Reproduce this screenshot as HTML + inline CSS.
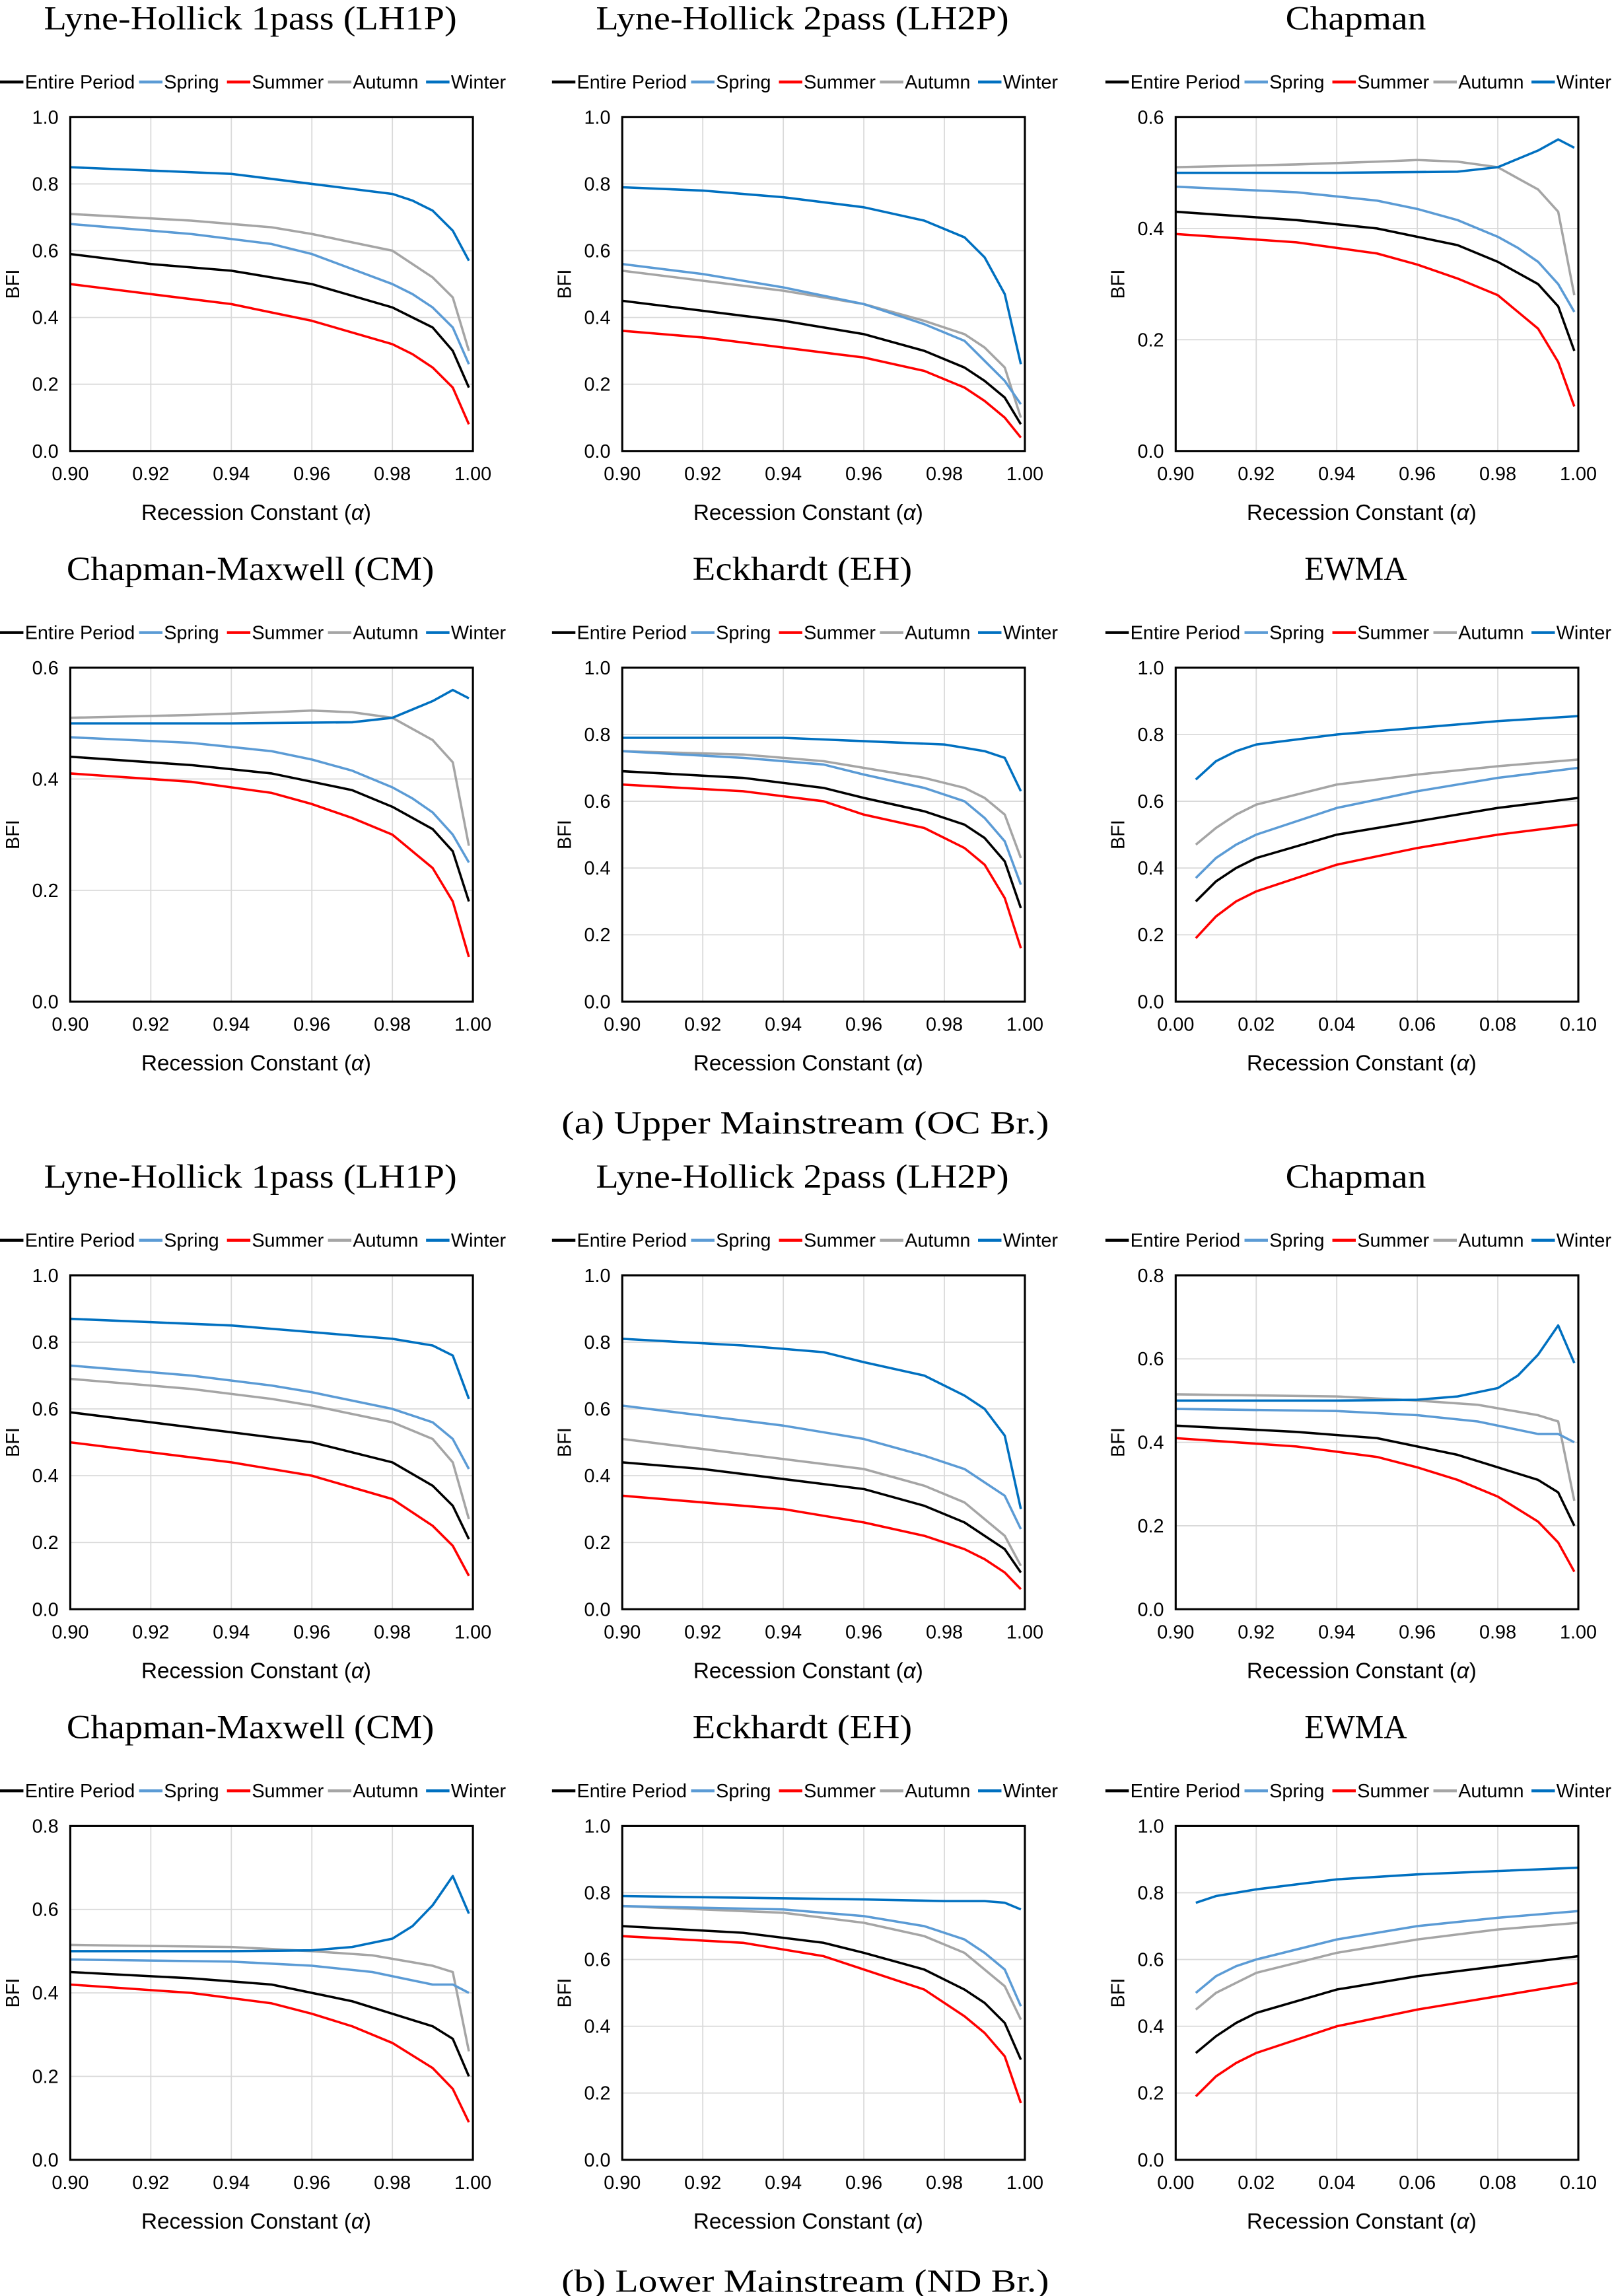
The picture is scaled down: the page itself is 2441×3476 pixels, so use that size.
<!DOCTYPE html>
<html><head><meta charset="utf-8">
<style>
html,body{margin:0;padding:0;background:#fff;}
svg{display:block;}
</style></head>
<body>
<svg id="s" width="2441" height="3476" viewBox="0 0 1101 1568" preserveAspectRatio="none" xmlns="http://www.w3.org/2000/svg">
<rect width="1101" height="1568" fill="#fff"/>
<g id="g"></g>
<text x="550" y="774" text-anchor="middle" font-family="Liberation Serif, serif" font-size="22" textLength="333" lengthAdjust="spacingAndGlyphs">(a) Upper Mainstream (OC Br.)</text>
<text x="550" y="1565" text-anchor="middle" font-family="Liberation Serif, serif" font-size="22" textLength="333" lengthAdjust="spacingAndGlyphs">(b) Lower Mainstream (ND Br.)</text>
</svg>
<script>
const C={E:"#000000",S:"#5b9bd5",U:"#ff0000",A:"#a5a5a5",W:"#0070c0"};
const chap=(e,u)=>({
W:[[.9,.50],[.94,.50],[.97,.502],[.98,.51],[.985,.525],[.99,.54],[.995,.56],[.999,.545]],
A:[[.9,.51],[.93,.515],[.95,.52],[.96,.523],[.97,.52],[.98,.51],[.985,.49],[.99,.47],[.995,.43],[.999,.28]],
S:[[.9,.475],[.93,.465],[.95,.45],[.96,.435],[.97,.415],[.98,.385],[.985,.365],[.99,.34],[.995,.30],[.999,.25]],
E:[[.9,e],[.93,e-.015],[.95,e-.03],[.96,e-.045],[.97,e-.06],[.98,e-.09],[.985,e-.11],[.99,e-.13],[.995,e-.17],[.999,.18]],
U:[[.9,u],[.93,u-.015],[.95,u-.035],[.96,u-.055],[.97,u-.08],[.98,u-.11],[.985,u-.14],[.99,u-.17],[.995,u-.23],[.999,.08]]});
const chapB=(e,u)=>({
W:[[.9,.50],[.94,.50],[.96,.502],[.97,.51],[.98,.53],[.985,.56],[.99,.61],[.995,.68],[.999,.59]],
A:[[.9,.515],[.94,.51],[.96,.50],[.975,.49],[.99,.465],[.995,.45],[.999,.26]],
S:[[.9,.48],[.94,.475],[.96,.465],[.975,.45],[.99,.42],[.995,.42],[.999,.40]],
E:[[.9,e],[.93,e-.015],[.95,e-.03],[.96,e-.05],[.97,e-.07],[.98,e-.10],[.99,e-.13],[.995,e-.16],[.999,.20]],
U:[[.9,u],[.93,u-.02],[.95,u-.045],[.96,u-.07],[.97,u-.10],[.98,u-.14],[.99,u-.20],[.995,u-.25],[.999,.09]]});
const ew=(a)=>{const xs=[.005,.01,.015,.02,.04,.06,.08,.1];let o={};for(const k in a)o[k]=a[k].map((v,i)=>[xs[i],v]);return o;};
const panels=[
{t:"Lyne-Hollick  1pass  (LH1P)",tw:282,ymax:1,yt:[0,.2,.4,.6,.8,1],d:{
W:[[.9,.85],[.94,.83],[.96,.80],[.98,.77],[.985,.75],[.99,.72],[.995,.66],[.999,.57]],
A:[[.9,.71],[.93,.69],[.95,.67],[.96,.65],[.98,.60],[.985,.56],[.99,.52],[.995,.46],[.999,.30]],
S:[[.9,.68],[.93,.65],[.95,.62],[.96,.59],[.98,.50],[.985,.47],[.99,.43],[.995,.37],[.999,.26]],
E:[[.9,.59],[.92,.56],[.94,.54],[.96,.50],[.98,.43],[.985,.40],[.99,.37],[.995,.30],[.999,.19]],
U:[[.9,.50],[.92,.47],[.94,.44],[.96,.39],[.98,.32],[.985,.29],[.99,.25],[.995,.19],[.999,.08]]}},
{t:"Lyne-Hollick  2pass  (LH2P)",tw:282,ymax:1,yt:[0,.2,.4,.6,.8,1],d:{
W:[[.9,.79],[.92,.78],[.94,.76],[.96,.73],[.975,.69],[.985,.64],[.99,.58],[.995,.47],[.999,.26]],
S:[[.9,.56],[.92,.53],[.94,.49],[.96,.44],[.975,.38],[.985,.33],[.99,.27],[.995,.21],[.999,.14]],
A:[[.9,.54],[.92,.51],[.94,.48],[.96,.44],[.975,.39],[.985,.35],[.99,.31],[.995,.25],[.999,.10]],
E:[[.9,.45],[.92,.42],[.94,.39],[.96,.35],[.975,.30],[.985,.25],[.99,.21],[.995,.16],[.999,.08]],
U:[[.9,.36],[.92,.34],[.94,.31],[.96,.28],[.975,.24],[.985,.19],[.99,.15],[.995,.10],[.999,.04]]}},
{t:"Chapman",tw:96,ymax:.6,yt:[0,.2,.4,.6],d:chap(.43,.39)},
{t:"Chapman-Maxwell  (CM)",tw:251,ymax:.6,yt:[0,.2,.4,.6],d:chap(.44,.41)},
{t:"Eckhardt  (EH)",tw:150,ymax:1,yt:[0,.2,.4,.6,.8,1],d:{
W:[[.9,.79],[.94,.79],[.96,.78],[.98,.77],[.985,.76],[.99,.75],[.995,.73],[.999,.63]],
A:[[.9,.75],[.93,.74],[.95,.72],[.96,.70],[.975,.67],[.985,.64],[.99,.61],[.995,.56],[.999,.43]],
S:[[.9,.75],[.93,.73],[.95,.71],[.96,.68],[.975,.64],[.985,.60],[.99,.55],[.995,.48],[.999,.35]],
E:[[.9,.69],[.93,.67],[.95,.64],[.96,.61],[.975,.57],[.985,.53],[.99,.49],[.995,.42],[.999,.28]],
U:[[.9,.65],[.93,.63],[.95,.60],[.96,.56],[.975,.52],[.985,.46],[.99,.41],[.995,.31],[.999,.16]]}},
{t:"EWMA",tw:70,ymax:1,yt:[0,.2,.4,.6,.8,1],ew:1,d:ew({
W:[.665,.72,.75,.77,.80,.82,.84,.855],A:[.47,.52,.56,.59,.65,.68,.705,.725],
S:[.37,.43,.47,.50,.58,.63,.67,.70],E:[.30,.36,.40,.43,.50,.54,.58,.61],U:[.19,.255,.30,.33,.41,.46,.50,.53]})},
{t:"Lyne-Hollick  1pass  (LH1P)",tw:282,ymax:1,yt:[0,.2,.4,.6,.8,1],d:{
W:[[.9,.87],[.94,.85],[.96,.83],[.98,.81],[.99,.79],[.995,.76],[.999,.63]],
S:[[.9,.73],[.93,.70],[.95,.67],[.96,.65],[.98,.60],[.99,.56],[.995,.51],[.999,.42]],
A:[[.9,.69],[.93,.66],[.95,.63],[.96,.61],[.98,.56],[.99,.51],[.995,.44],[.999,.27]],
E:[[.9,.59],[.92,.56],[.94,.53],[.96,.50],[.98,.44],[.99,.37],[.995,.31],[.999,.21]],
U:[[.9,.50],[.92,.47],[.94,.44],[.96,.40],[.98,.33],[.99,.25],[.995,.19],[.999,.10]]}},
{t:"Lyne-Hollick  2pass  (LH2P)",tw:282,ymax:1,yt:[0,.2,.4,.6,.8,1],d:{
W:[[.9,.81],[.93,.79],[.95,.77],[.96,.74],[.975,.70],[.985,.64],[.99,.60],[.995,.52],[.999,.30]],
S:[[.9,.61],[.92,.58],[.94,.55],[.96,.51],[.975,.46],[.985,.42],[.99,.38],[.995,.34],[.999,.24]],
A:[[.9,.51],[.92,.48],[.94,.45],[.96,.42],[.975,.37],[.985,.32],[.99,.27],[.995,.22],[.999,.13]],
E:[[.9,.44],[.92,.42],[.94,.39],[.96,.36],[.975,.31],[.985,.26],[.99,.22],[.995,.18],[.999,.11]],
U:[[.9,.34],[.92,.32],[.94,.30],[.96,.26],[.975,.22],[.985,.18],[.99,.15],[.995,.11],[.999,.06]]}},
{t:"Chapman",tw:96,ymax:.8,yt:[0,.2,.4,.6,.8],d:chapB(.44,.41)},
{t:"Chapman-Maxwell  (CM)",tw:251,ymax:.8,yt:[0,.2,.4,.6,.8],d:chapB(.45,.42)},
{t:"Eckhardt  (EH)",tw:150,ymax:1,yt:[0,.2,.4,.6,.8,1],d:{
W:[[.9,.79],[.96,.78],[.98,.775],[.99,.775],[.995,.77],[.999,.75]],
S:[[.9,.76],[.94,.75],[.96,.73],[.975,.70],[.985,.66],[.99,.62],[.995,.57],[.999,.46]],
A:[[.9,.76],[.94,.74],[.96,.71],[.975,.67],[.985,.62],[.99,.57],[.995,.52],[.999,.42]],
E:[[.9,.70],[.93,.68],[.95,.65],[.96,.62],[.975,.57],[.985,.51],[.99,.47],[.995,.41],[.999,.30]],
U:[[.9,.67],[.93,.65],[.95,.61],[.96,.57],[.975,.51],[.985,.43],[.99,.38],[.995,.31],[.999,.17]]}},
{t:"EWMA",tw:70,ymax:1,yt:[0,.2,.4,.6,.8,1],ew:1,d:ew({
W:[.77,.79,.80,.81,.84,.855,.865,.875],S:[.50,.55,.58,.60,.66,.70,.725,.745],
A:[.45,.50,.53,.56,.62,.66,.69,.71],E:[.32,.37,.41,.44,.51,.55,.58,.61],U:[.19,.25,.29,.32,.40,.45,.49,.53]})}
];
const cols=[48,425,803], tops=[80,456,871,1247], W=275,H=228;
let h="";
const sans='font-family="Liberation Sans, sans-serif"';
panels.forEach((p,i)=>{
 const L=cols[i%3], T=tops[Math.floor(i/3)], B=T+H, R=L+W;
 const x0=p.ew?0:.9, x1=p.ew?.1:1;
 const X=v=>L+(v-x0)/(x1-x0)*W, Y=v=>B-v/p.ymax*H;
 h+=`<text x="${L+123}" y="${T-60}" text-anchor="middle" font-family="Liberation Serif, serif" font-size="23" textLength="${p.tw}" lengthAdjust="spacingAndGlyphs">${p.t}</text>`;
 const lx=L-48, ly=T-24;
 const items=[["Entire Period",C.E,0],["Spring",C.S,95],["Summer",C.U,155],["Autumn",C.A,224],["Winter",C.W,291]];
 items.forEach(([n,c,o])=>{h+=`<line x1="${lx+o}" y1="${ly}" x2="${lx+o+16}" y2="${ly}" stroke="${c}" stroke-width="2"/><text x="${lx+o+17}" y="${ly+4.5}" ${sans} font-size="13">${n}</text>`;});
 for(let k=0;k<=5;k++){const v=x0+k*(x1-x0)/5, xx=X(v);
  if(k>0&&k<5)h+=`<line x1="${xx}" y1="${T}" x2="${xx}" y2="${B}" stroke="#d9d9d9" stroke-width="0.8"/>`;
  h+=`<text x="${xx}" y="${B+20}" text-anchor="middle" ${sans} font-size="13">${v.toFixed(2)}</text>`;}
 p.yt.forEach(v=>{const yy=Y(v); if(v>0&&v<p.ymax)h+=`<line x1="${L}" y1="${yy}" x2="${R}" y2="${yy}" stroke="#d9d9d9" stroke-width="0.8"/>`;
  h+=`<text x="${L-8}" y="${yy+4.5}" text-anchor="end" ${sans} font-size="13">${v.toFixed(1)}</text>`;});
 ["A","S","E","U","W"].forEach(k=>{const pts=p.d[k].map(q=>X(q[0]).toFixed(2)+","+Y(q[1]).toFixed(2)).join(" ");
  h+=`<polyline points="${pts}" fill="none" stroke="${C[k]}" stroke-width="1.6" stroke-linejoin="round"/>`;});
 h+=`<rect x="${L}" y="${T}" width="${W}" height="${H}" fill="none" stroke="#000" stroke-width="1.4"/>`;
 h+=`<text x="${L+127}" y="${B+47}" text-anchor="middle" ${sans} font-size="15">Recession Constant (<tspan font-style="italic">α</tspan>)</text>`;
 h+=`<text transform="translate(${L-35},${T+H/2}) rotate(-90)" text-anchor="middle" ${sans} font-size="13">BFI</text>`;
});
document.getElementById("g").innerHTML=h;
</script>
</body></html>
